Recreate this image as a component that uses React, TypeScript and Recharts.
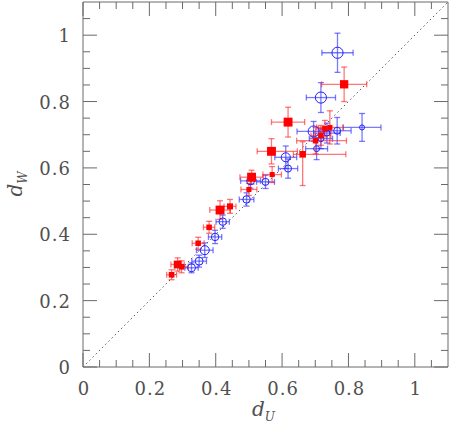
import {
  ScatterChart,
  Scatter,
  XAxis,
  YAxis,
  ZAxis,
  ErrorBar,
  ReferenceLine,
} from "recharts";

// red filled squares
const redX = [0.267, 0.285, 0.297, 0.347, 0.38, 0.413, 0.443, 0.5, 0.508, 0.57, 0.568, 0.618, 0.662, 0.701, 0.717, 0.729, 0.744, 0.787];
const redY = [0.278, 0.309, 0.302, 0.373, 0.421, 0.473, 0.484, 0.535, 0.572, 0.58, 0.65, 0.738, 0.641, 0.682, 0.698, 0.718, 0.722, 0.852];
const redXErr: [number, number][] = [
  [0.015, 0.015], [0.02, 0.02], [0.02, 0.02], [0.018, 0.018], [0.017, 0.017], [0.031, 0.031],
  [0.018, 0.018], [0.024, 0.024], [0.035, 0.035], [0.028, 0.028], [0.043, 0.078], [0.05, 0.05],
  [0.028, 0.13], [0.057, 0.093], [0.03, 0.03], [0.02, 0.02], [0.04, 0.04], [0.068, 0.068],
];
const redYErr: [number, number][] = [
  [0.015, 0.015], [0.02, 0.02], [0.018, 0.018], [0.018, 0.018], [0.018, 0.018], [0.028, 0.028],
  [0.021, 0.021], [0.018, 0.018], [0.021, 0.021], [0.024, 0.024], [0.038, 0.038], [0.045, 0.045],
  [0.094, 0.038], [0.04, 0.04], [0.03, 0.03], [0.025, 0.025], [0.05, 0.05], [0.052, 0.052],
];
const redW = [2.5, 4.6, 2.5, 2.4, 2.4, 6.2, 2.9, 2.0, 6.2, 2.0, 6.2, 6.2, 3.4, 2.4, 2.4, 2.4, 2.0, 5.4];

// blue open circles
const blueX = [0.327, 0.35, 0.367, 0.398, 0.421, 0.493, 0.505, 0.55, 0.611, 0.618, 0.704, 0.695, 0.717, 0.735, 0.766, 0.841, 0.717, 0.767];
const blueY = [0.299, 0.319, 0.352, 0.392, 0.438, 0.505, 0.561, 0.558, 0.632, 0.598, 0.658, 0.71, 0.688, 0.705, 0.712, 0.722, 0.812, 0.947];
const blueXErr = [0.02, 0.022, 0.025, 0.02, 0.02, 0.022, 0.03, 0.027, 0.033, 0.029, 0.033, 0.05, 0.035, 0.04, 0.042, 0.057, 0.044, 0.047];
const blueYErr = [0.015, 0.018, 0.022, 0.02, 0.02, 0.02, 0.022, 0.02, 0.034, 0.029, 0.033, 0.03, 0.03, 0.03, 0.04, 0.042, 0.045, 0.059];
const blueW = [5.0, 5.0, 6.4, 4.4, 4.4, 4.4, 5.0, 3.85, 6.4, 3.85, 2.8, 9.5, 2.8, 2.8, 3.85, 2.0, 9.8, 9.8];

const majorTicks = [0, 0.2, 0.4, 0.6, 0.8, 1];
const allTicks = [0, 0.05, 0.1, 0.15, 0.2, 0.25, 0.3, 0.35, 0.4, 0.45, 0.5, 0.55, 0.6, 0.65, 0.7, 0.75, 0.8, 0.85, 0.9, 0.95, 1, 1.05];
const tickLabels = ["0", "0.2", "0.4", "0.6", "0.8", "1"];

const redData = redX.map((x, i) => ({ x, y: redY[i], ex: redXErr[i], ey: redYErr[i], w: redW[i] }));
const blueData = blueX.map((x, i) => ({ x, y: blueY[i], ex: blueXErr[i], ey: blueYErr[i], w: blueW[i] }));

const AXIS = "#6a6a6a";
const TEXT = "#505050";
const FONT = "DejaVu Serif";

const labelFor = (v: number) => {
  const i = majorTicks.findIndex((m) => Math.abs(m - v) < 1e-6);
  return i >= 0 ? tickLabels[i] : null;
};

const BottomTick = ({ x, y, payload }: any) => {
  const lab = labelFor(payload.value);
  return (
    <g>
      <line x1={x} y1={y} x2={x} y2={y - (lab ? 14 : 7)} stroke={AXIS} />
      {lab && (
        <text x={x + 1} y={y + 28} textAnchor="middle" fontFamily={FONT} fontSize={18} fill={TEXT} letterSpacing={1}>
          {lab}
        </text>
      )}
    </g>
  );
};

const TopTick = ({ x, y, payload }: any) => {
  const lab = labelFor(payload.value);
  return <line x1={x} y1={y} x2={x} y2={y + (lab ? 14 : 7)} stroke={AXIS} />;
};

const LeftTick = ({ x, y, payload }: any) => {
  const lab = labelFor(payload.value);
  return (
    <g>
      <line x1={x} y1={y} x2={x + (lab ? 14 : 7)} y2={y} stroke={AXIS} />
      {lab && (
        <text x={x - 12} y={y + 7} textAnchor="end" fontFamily={FONT} fontSize={18} fill={TEXT} letterSpacing={1}>
          {lab}
        </text>
      )}
    </g>
  );
};

const RightTick = ({ x, y, payload }: any) => {
  const lab = labelFor(payload.value);
  return <line x1={x} y1={y} x2={x - (lab ? 14 : 7)} y2={y} stroke={AXIS} />;
};

const RedSquare = (props: any) => {
  const { cx, cy, width } = props;
  const s = width ?? 5;
  return <rect x={cx - s / 2} y={cy - s / 2} width={s} height={s} fill="#ff0000" />;
};

const BlueCircle = (props: any) => {
  const { cx, cy, width } = props;
  const r = (width ?? 6) / 2;
  return <circle cx={cx} cy={cy} r={r} fill="none" stroke="#2020ff" strokeWidth={1} />;
};

export default function App() {
  return (
    <div style={{ position: "absolute", left: 0, top: 0, width: 449, height: 429, background: "#fff" }}>
      <ScatterChart width={449} height={429} margin={{ top: 1, right: 0, bottom: 0, left: 0 }}>
        <XAxis
          xAxisId={0}
          type="number"
          dataKey="x"
          domain={[0, 1.1]}
          ticks={allTicks}
          interval={0}
          orientation="bottom"
          height={62}
          tickSize={0}
          tickMargin={0}
          tickLine={false}
          axisLine={{ stroke: AXIS }}
          tick={<BottomTick />}
          allowDataOverflow
        />
        <XAxis
          xAxisId="top"
          type="number"
          dataKey="x"
          domain={[0, 1.1]}
          ticks={allTicks}
          interval={0}
          orientation="top"
          height={1}
          tickSize={0}
          tickMargin={0}
          tickLine={false}
          axisLine={{ stroke: AXIS }}
          tick={<TopTick />}
          allowDataOverflow
        />
        <YAxis
          yAxisId={0}
          type="number"
          dataKey="y"
          domain={[0, 1.1]}
          ticks={allTicks}
          interval={0}
          orientation="left"
          width={83}
          tickSize={0}
          tickMargin={0}
          tickLine={false}
          axisLine={{ stroke: AXIS }}
          tick={<LeftTick />}
          allowDataOverflow
        />
        <YAxis
          yAxisId="right"
          type="number"
          dataKey="y"
          domain={[0, 1.1]}
          ticks={allTicks}
          interval={0}
          orientation="right"
          width={1}
          tickSize={0}
          tickMargin={0}
          tickLine={false}
          axisLine={{ stroke: AXIS }}
          tick={<RightTick />}
          allowDataOverflow
        />
        <ZAxis type="number" dataKey="w" domain={[0, 10]} range={[0, 100]} />
        <ReferenceLine
          segment={[{ x: 0, y: 0 }, { x: 1.1, y: 1.1 }]}
          stroke="#555"
          strokeWidth={1}
          strokeDasharray="1.5 3"
          ifOverflow="hidden"
        />
        <Scatter data={blueData} shape={<BlueCircle />} isAnimationActive={false}>
          <ErrorBar dataKey="ex" direction="x" width={3} stroke="rgba(50,50,255,0.65)" strokeWidth={1.3} isAnimationActive={false} />
          <ErrorBar dataKey="ey" direction="y" width={3} stroke="rgba(50,50,255,0.65)" strokeWidth={1.3} isAnimationActive={false} />
        </Scatter>
        <Scatter data={redData} shape={<RedSquare />} isAnimationActive={false}>
          <ErrorBar dataKey="ex" direction="x" width={3} stroke="rgba(255,30,30,0.6)" strokeWidth={1.3} isAnimationActive={false} />
          <ErrorBar dataKey="ey" direction="y" width={3} stroke="rgba(255,30,30,0.6)" strokeWidth={1.3} isAnimationActive={false} />
        </Scatter>
      </ScatterChart>
      <div
        style={{
          position: "absolute",
          left: 252,
          top: 398,
          fontFamily: FONT,
          fontSize: 20,
          color: TEXT,
          lineHeight: "22px",
          whiteSpace: "nowrap",
        }}
      >
        <i>d</i>
        <sub style={{ fontSize: 12, fontStyle: "italic", verticalAlign: -5 }}>U</sub>
      </div>
      <div
        style={{
          position: "absolute",
          left: -5,
          top: 173,
          width: 40,
          height: 22,
          transform: "rotate(-90deg)",
          transformOrigin: "center",
          fontFamily: FONT,
          fontSize: 20,
          color: TEXT,
          lineHeight: "22px",
          whiteSpace: "nowrap",
          textAlign: "center",
        }}
      >
        <i>d</i>
        <sub style={{ fontSize: 12, fontStyle: "italic", verticalAlign: -5 }}>W</sub>
      </div>
    </div>
  );
}
